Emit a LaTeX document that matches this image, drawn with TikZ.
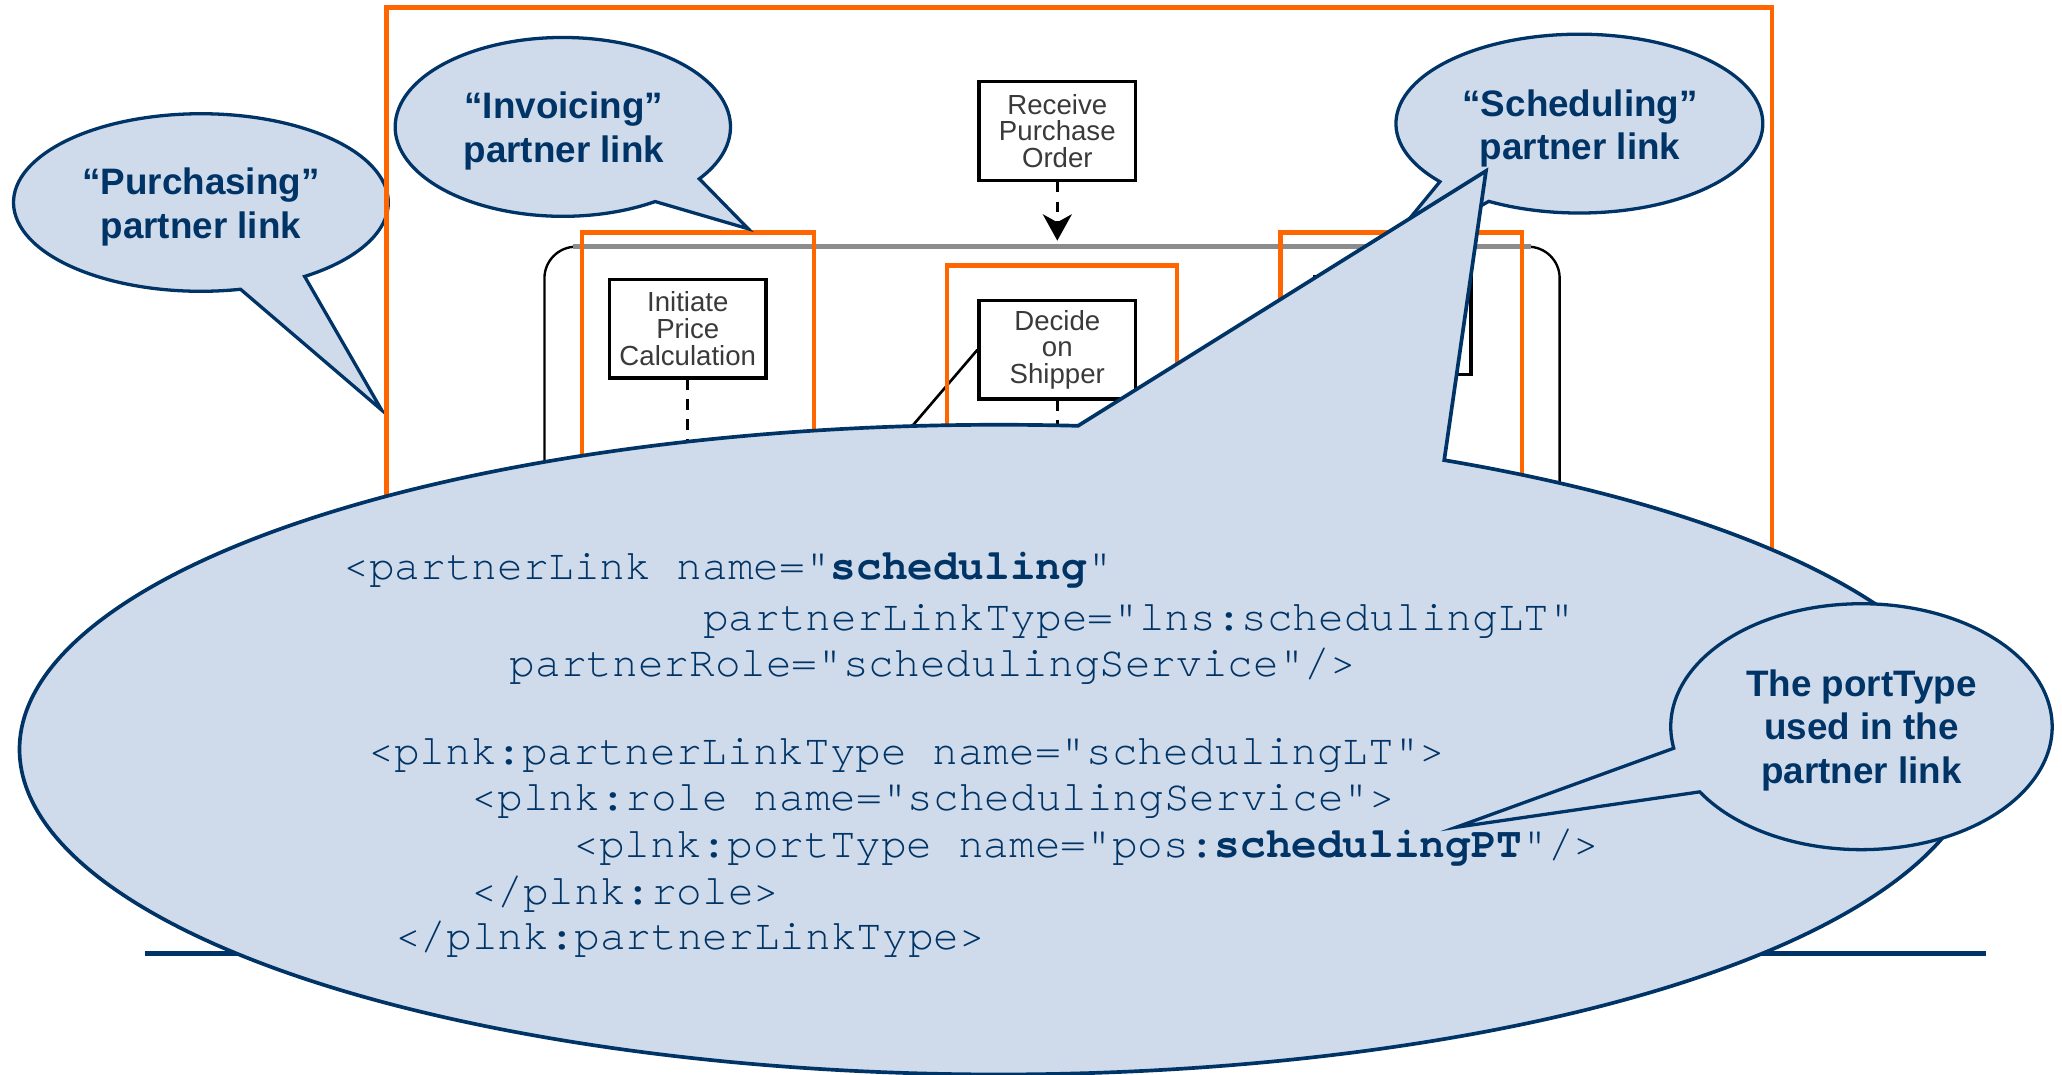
\documentclass[tikz,border=0pt]{standalone}
\usepackage{fontspec}
\setmainfont{Liberation Sans}
\newfontfamily\codefont{texgyrecursor-regular.otf}[BoldFont=texgyrecursor-bold.otf]
\usetikzlibrary{arrows.meta,calc}
\definecolor{navy}{HTML}{003366}
\definecolor{bubblefill}{HTML}{CFDBEA}
\definecolor{hiorange}{HTML}{FF6600}
\definecolor{lanegray}{HTML}{8C8C8C}
\definecolor{boxtext}{HTML}{3A3A3A}

\begin{document}
\begin{tikzpicture}[x=1pt,y=1pt,
  bubble/.style={draw=navy, fill=bubblefill, line width=2.5pt, line join=miter},
  bigbubble/.style={bubble, line width=2.8pt},
  bubbletext/.style={text=navy, font=\fontsize{28}{33.3}\selectfont\bfseries, align=center, inner sep=0pt},
  codeline/.style={text=navy, font=\codefont\fontsize{32.5}{35}\selectfont, anchor=base west, inner sep=0pt},
  activity/.style={draw=black, line width=2.5pt, fill=white, minimum width=119pt, minimum height=75pt,
    inner sep=0pt, align=center, text=boxtext, font=\fontsize{21}{20.3}\selectfont},
  highlight/.style={draw=hiorange, line width=3.5pt},
  flow/.style={line width=2.5pt, dash pattern=on 8pt off 7pt},
]
\fill[white] (0,0) rectangle (1568,817);
\useasboundingbox (0,0) rectangle (1568,817);

% rule under the slide content
\draw[navy, line width=4.4pt] (110,92) -- (1510,92);

% "Purchasing" callout
\coordinate (pc) at (152.8,663);
\coordinate (ptip) at (290.2,505.2);
\draw[bubble] ($(pc)+(-77.8:142.5pt and 67.5pt)$)
  arc[start angle=-77.8, end angle=-416.4, x radius=142.5pt, y radius=67.5pt] -- (ptip) -- cycle;
\node[bubbletext] (purchtext) at (152.8,659.3) {“Purchasing”\\partner link};

% process frame
\draw[highlight] (294,117) rectangle (1347.6,811.4);
\draw[line width=1.8pt, rounded corners=24pt] (414,117) rectangle (1186,629.4);
\draw[lanegray, line width=3.5pt] (436,629.4) -- (1164,629.4);

% activities
\node[activity] (recv) at (804,717.5) {Receive\\Purchase\\Order};
\node[activity] (init) at (523,567) {Initiate\\Price\\Calculation};
\node[activity] (dec) at (804,551) {Decide\\on\\Shipper};
\node[activity] (sched) at (1059,569.5) {};

% control links
\coordinate (recvend) at (804,634);
\coordinate (initend) at (523,467);
\coordinate (decend) at (804,472);
\coordinate (decbranch) at (680,477);
\draw[flow, -{Stealth[length=20pt, width=22pt, inset=6pt]}] (recv.south) -- (recvend);
\draw[flow] (init.south) -- (initend);
\draw[flow] (dec.south) -- (decend);
\draw[line width=2pt] (dec.west) -- (decbranch);

% partner highlights
\draw[highlight] (442.5,117) rectangle (619,640);
\draw[highlight] (720,117) rectangle (895,615);
\draw[highlight] (973.5,117) rectangle (1157.5,640);

% "Invoicing" callout
\coordinate (ic) at (428,720.5);
\coordinate (itip) at (569,643);
\draw[bubble] ($(ic)+(-56.6:127.5pt and 68pt)$)
  arc[start angle=-56.6, end angle=-395.5, x radius=127.5pt, y radius=68pt] -- (itip) -- cycle;
\node[bubbletext] (invtext) at (428.7,717.6) {“Invoicing”\\partner link};

% "Scheduling" callout
\coordinate (sc) at (1201,723);
\coordinate (stip) at (1040,612);
\draw[bubble] ($(sc)+(-139.5:139.5pt and 68pt)$)
  arc[start angle=-139.5, end angle=-479.6, x radius=139.5pt, y radius=68pt] -- (stip) -- cycle;
\node[bubbletext] (schedtext) at (1201.6,719.3) {“Scheduling”\\partner link};

% code callout
\coordinate (bc) at (760,247);
\coordinate (btip) at (1130,687);
\draw[bigbubble] ($(bc)+(63:745pt and 247pt)$)
  arc[start angle=63, end angle=-274.6, x radius=745pt, y radius=247pt] -- (btip) -- cycle;

\node[codeline] (code1) at (261,376.4) {<partnerLink name="\textbf{scheduling}"};
\node[codeline] (code2) at (534.5,337.5) {partnerLinkType="lns:schedulingLT"};
\node[codeline] (code3) at (387.5,302.4) {partnerRole="schedulingService"/>};
\node[codeline] (code4) at (280,235.8) {<plnk:partnerLinkType name="schedulingLT">};
\node[codeline] (code5) at (358.6,200.3) {<plnk:role name="schedulingService">};
\node[codeline] (code6) at (436,164.8) {<plnk:portType name="pos:\textbf{schedulingPT}"/>};
\node[codeline] (code7) at (358.6,129.5) {</plnk:role>};
\node[codeline] (code8) at (300.3,94.6) {</plnk:partnerLinkType>};

% portType callout
\coordinate (tc) at (1415.5,264.4);
\coordinate (ttip) at (1107.2,187.9);
\draw[bubble] ($(tc)+(-169.9:145pt and 93.5pt)$)
  arc[start angle=-169.9, end angle=-508, x radius=145pt, y radius=93.5pt] -- (ttip) -- cycle;
\node[bubbletext] (pttext) at (1415.5,261.65) {The portType\\used in the\\partner link};
\end{tikzpicture}
\end{document}
